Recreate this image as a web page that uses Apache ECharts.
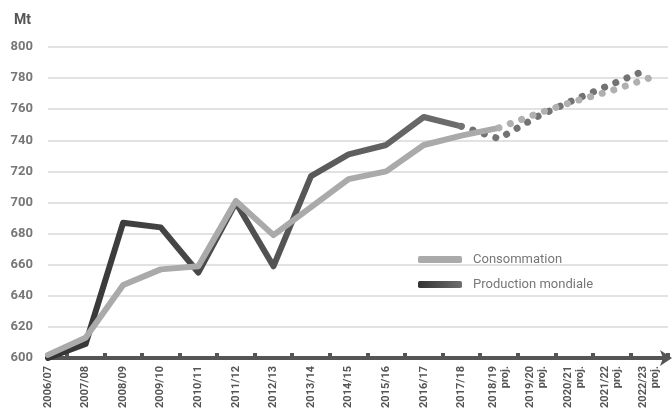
<!DOCTYPE html>
<html>
<head>
<meta charset="utf-8">
<script src="https://cdn.jsdelivr.net/npm/echarts@6/dist/echarts.min.js"></script>
<style>
html, body { margin: 0; padding: 0; background: #fff; }
#chart { width: 672px; height: 416px; }
</style>
</head>
<body>
<div id="chart"></div>
<script>
var campagnes = ['2006/07', '2007/08', '2008/09', '2009/10', '2010/11', '2011/12', '2012/13', '2013/14',
    '2014/15', '2015/16', '2016/17', '2017/18', '2018/19\nproj.', '2019/20\nproj.', '2020/21\nproj.',
    '2021/22\nproj.', '2022/23\nproj.'];
// valeurs en Mt, null = pas de valeur pour ce trait
var consoReel = [602, 613, 647, 657, 659, 701, 679, 697, 715, 720, 737, 743, 748, null, null, null, null];
var consoProj = [null, null, null, null, null, null, null, null, null, null, null, null, 748, 757, 765, 772, 780];
var prodReel = [600, 609, 687, 684, 655, 700, 659, 717, 731, 737, 755, 749, null, null, null, null, null];
var prodProj = [null, null, null, null, null, null, null, null, null, null, null, 749, 741, 755, 766, 776, 786];
var yTicks = [600, 620, 640, 660, 680, 700, 720, 740, 760, 780, 800];

function pts(arr) {
    var res = [];
    for (var i = 0; i < arr.length; i++) {
        if (arr[i] != null) res.push([i, arr[i]]);
    }
    return res;
}

var xMax = 16.5;

var prodColor = new echarts.graphic.LinearGradient(0, 0, 1, 0, [
    {offset: 0, color: '#333333'},
    {offset: 1, color: '#6e6e6e'}
]);

var mychart = echarts.init(document.getElementById('chart'));
var o = {
    animation: false,
    textStyle: {fontFamily: 'Roboto'},
    title: {
        text: 'Mt',
        left: 9,
        top: 8,
        textStyle: {fontSize: 14, fontWeight: 'bold', color: '#555'}
    },
    legend: {
        orient: 'vertical',
        left: 413,
        top: 248,
        itemWidth: 44,
        itemHeight: 7,
        itemGap: 12,
        icon: 'roundRect',
        data: ['Consommation', 'Production mondiale'],
        textStyle: {fontSize: 13, color: '#777', padding: [0, 0, 0, 6]}
    },
    grid: {
        left: 48,
        right: 4,
        top: 47,
        bottom: 58
    },
    xAxis: [{
        type: 'value',
        min: 0,
        max: xMax,
        interval: 1,
        splitLine: {show: false},
        axisLine: {
            lineStyle: {color: '#555', width: 4},
            symbol: ['none', 'arrow'],
            symbolSize: [12, 12],
            symbolOffset: [0, 4]
        },
        axisTick: {show: false},
        axisLabel: {
            rotate: 90,
            fontSize: 11,
            fontWeight: 'bold',
            color: '#555',
            lineHeight: 12,
            margin: 8,
            showMaxLabel: false,
            formatter: function (v) {
                return campagnes[v] || '';
            }
        }
    },
    {
        // petits repères entre les campagnes (axe inversé => décalage d'une demi-campagne)
        type: 'value',
        position: 'bottom',
        inverse: true,
        min: 0,
        max: xMax,
        interval: 1,
        splitLine: {show: false},
        axisLine: {show: false},
        axisLabel: {show: false},
        axisTick: {show: true, inside: true, length: 5, lineStyle: {color: '#555', width: 4}}
    }],
    yAxis: {
        type: 'value',
        min: yTicks[0],
        max: yTicks[yTicks.length - 1],
        interval: 20,
        axisLine: {show: false},
        axisTick: {show: false},
        axisLabel: {fontSize: 13, fontWeight: 'bold', color: '#777', margin: 15},
        splitLine: {lineStyle: {color: '#e2e2e2', width: 2}}
    },
    series: [
        {
            name: 'Consommation',
            type: 'line',
            data: pts(consoReel),
            showSymbol: false,
            color: '#aaaaaa',
            lineStyle: {width: 6, color: '#aaaaaa', cap: 'round', join: 'round'},
            z: 3
        },
        {
            name: 'Production mondiale',
            type: 'line',
            data: pts(prodReel),
            showSymbol: false,
            color: prodColor,
            lineStyle: {width: 6, color: prodColor, cap: 'round', join: 'round'},
            z: 2
        },
        {
            name: 'Consommation',
            type: 'line',
            data: pts(consoProj),
            showSymbol: false,
            color: '#aaaaaa',
            lineStyle: {width: 7, color: '#b0b0b0', type: [0.1, 12], cap: 'round'},
            z: 3
        },
        {
            name: 'Production mondiale',
            type: 'line',
            data: pts(prodProj),
            showSymbol: false,
            color: prodColor,
            lineStyle: {width: 7, color: '#737373', type: [0.1, 12], cap: 'round'},
            z: 2
        }
    ]
};
mychart.setOption(o);
</script>
</body>
</html>
